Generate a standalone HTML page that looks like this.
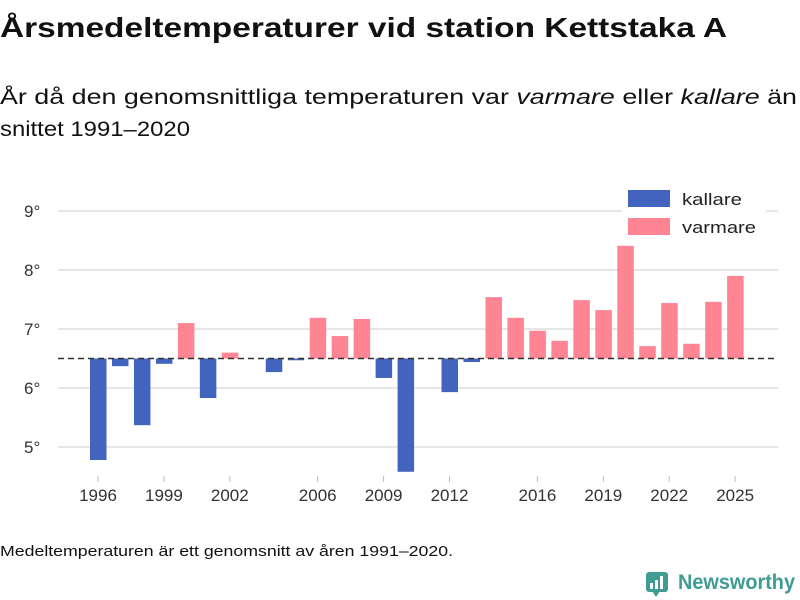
<!DOCTYPE html>
<html><head><meta charset="utf-8"><style>
body{margin:0;background:#fff;}
svg{display:block;font-family:"Liberation Sans","DejaVu Sans",sans-serif;}
</style></head><body>
<svg width="800" height="600" viewBox="0 0 800 600">
<text x="0" y="37" font-size="28" font-weight="bold" fill="#111" textLength="727" lengthAdjust="spacingAndGlyphs">Årsmedeltemperaturer vid station Kettstaka A</text>
<text x="0" y="104" font-size="21" fill="#111" textLength="797" lengthAdjust="spacingAndGlyphs">År då den genomsnittliga temperaturen var <tspan font-style="italic">varmare</tspan> eller <tspan font-style="italic">kallare</tspan> än</text>
<text x="0" y="136" font-size="21" fill="#111" textLength="190" lengthAdjust="spacingAndGlyphs">snittet 1991–2020</text>
<g id="grid"></g><g id="bars"></g><g id="xaxis"></g>
<g>
<rect x="622" y="183" width="144" height="60" fill="#fff"/>
<rect x="628" y="190" width="42" height="17" fill="#4263be"/>
<text x="682" y="205" font-size="17" fill="#222" textLength="60" lengthAdjust="spacingAndGlyphs">kallare</text>
<rect x="628" y="218" width="42" height="17" fill="#ff8494"/>
<text x="682" y="233" font-size="17" fill="#222" textLength="74" lengthAdjust="spacingAndGlyphs">varmare</text>
</g>
<text x="0" y="556" font-size="15" fill="#111" textLength="453" lengthAdjust="spacingAndGlyphs">Medeltemperaturen är ett genomsnitt av åren 1991–2020.</text>
<g>
<rect x="646" y="572" width="22" height="20" rx="3" fill="#3f9c93"/>
<polygon points="652,591 660,591 656,597" fill="#3f9c93"/>
<rect x="650" y="583" width="3" height="6" fill="#fff"/><rect x="655" y="580" width="3" height="9" fill="#fff"/><rect x="660" y="576" width="3" height="13" fill="#fff"/>
<text x="678" y="589" font-size="21" font-weight="bold" fill="#3f9c93" textLength="117" lengthAdjust="spacingAndGlyphs">Newsworthy</text>
</g>
</svg>
<script>
const years=[1996,1997,1998,1999,2000,2001,2002,2003,2004,2005,2006,2007,2008,2009,2010,2011,2012,2013,2014,2015,2016,2017,2018,2019,2020,2021,2022,2023,2024,2025];
const temps=[4.78,6.37,5.37,6.41,7.1,5.83,6.6,null,6.27,6.47,7.19,6.88,7.17,6.17,4.58,null,5.93,6.44,7.54,7.19,6.97,6.8,7.49,7.32,8.41,6.71,7.44,6.75,7.46,7.9];
const yTicks=[5,6,7,8,9];
const xTicks=[1996,1999,2002,2006,2009,2012,2016,2019,2022,2025];
const baseline=6.5;
const NS='http://www.w3.org/2000/svg';
const xs=y=>98+(y-1996)*21.97;
const ys=v=>388-(v-6)*59;
function mk(t,a,p){const e=document.createElementNS(NS,t);for(const k in a)e.setAttribute(k,a[k]);p.appendChild(e);return e;}
const grid=document.getElementById('grid'),bars=document.getElementById('bars'),xa=document.getElementById('xaxis');
yTicks.forEach(v=>{
 const l=mk('line',{x1:58,x2:778,y1:ys(v),y2:ys(v),stroke:'#ddd','stroke-width':1.5},grid);
 
 
 const t=mk('text',{x:24,y:ys(v)+6,'font-size':17,fill:'#333'},grid);t.textContent=v+'°';
 
 
});
years.forEach((y,i)=>{
 const v=temps[i];if(v==null)return;
 const top=Math.min(ys(v),ys(baseline)),h=Math.abs(ys(v)-ys(baseline));
 const r=mk('rect',{x:xs(y)-8,y:top,width:16.5,height:Math.max(h,1),fill:v<baseline?'#4263be':'#ff8494'},bars);
 
 
});
const bl=mk('line',{x1:58,x2:778,y1:ys(baseline),y2:ys(baseline),stroke:'#333','stroke-width':1.5,'stroke-dasharray':'6,4'},bars);


xTicks.forEach(y=>{
 mk('line',{x1:xs(y),x2:xs(y),y1:476,y2:482,stroke:'#bbb'},xa);
 const t=mk('text',{x:xs(y),y:501,'font-size':17,fill:'#333','text-anchor':'middle'},xa);t.textContent=y;
 
 
});
</script>
</body></html>
